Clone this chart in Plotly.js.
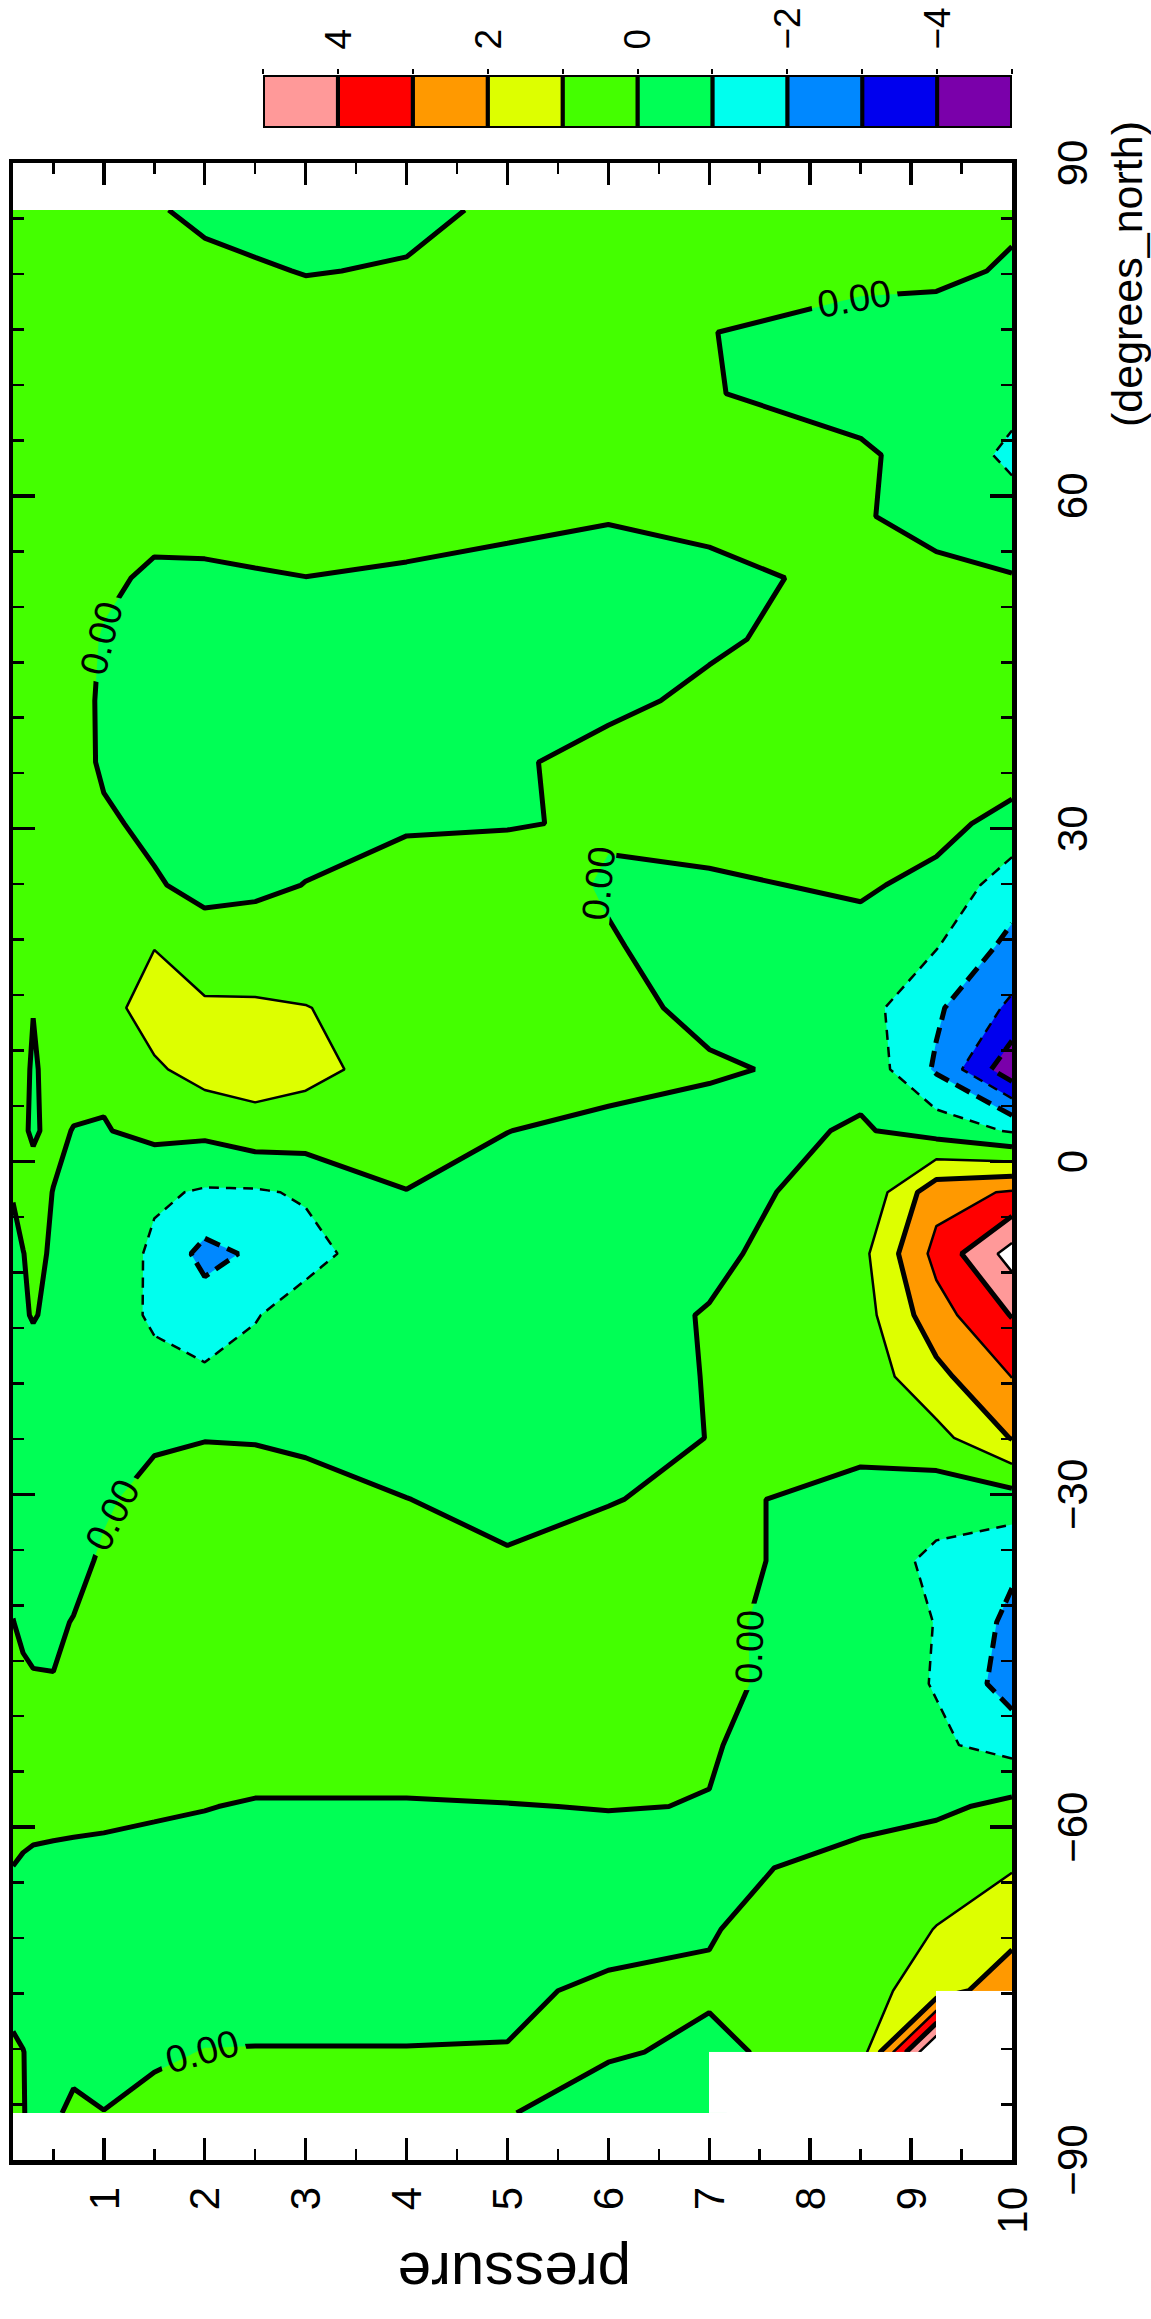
<!DOCTYPE html>
<html>
<head>
<meta charset="utf-8">
<script src="https://cdn.plot.ly/plotly-3.0.1.min.js"></script>
<style>
html,body{margin:0;padding:0;background:#fff;overflow:hidden;}
#wrap{position:relative;width:1151px;height:2319px;overflow:hidden;background:#fff;}
#chart{position:absolute;left:0;top:0;width:2319px;height:1151px;transform-origin:0 0;}
</style>
</head>
<body>
<div id="wrap"><div id="chart"></div></div>
<script>
// ---------------- data ----------------
const pressure = [0.1, 0.2, 0.3, 0.5, 0.7, 1, 1.5, 2, 2.5, 3, 4, 5, 6, 7, 8.5, 9.25, 10];
const latitude = [-85.7606, -80.2688, -74.7445, -69.2130, -63.6786, -58.1430, -52.6065, -47.0696,
  -41.5325, -35.9951, -30.4576, -24.9199, -19.3822, -13.8445, -8.3067, -2.7689,
  2.7689, 8.3067, 13.8445, 19.3822, 24.9199, 30.4576, 35.9951, 41.5325,
  47.0696, 52.6065, 58.1430, 63.6786, 69.2130, 74.7445, 80.2688, 85.7606];

// one row per latitude, values at the pressure levels above (null = missing)
const rowS01 = [0.1, 0.02, -0.1, -0.15, 0.2, 0.01, 0.2, 0.3, 0.3, 0.3, 0.3, 0.05, -0.5, -0.5, null, null, null];
const rowS02 = [0.05, 0.01, -0.1, -0.3, -0.3, -0.2, -0.1, 0.02, 0.03, 0.03, 0.03, 0.03, 0.1, -0.18, 0.5, 6.3, null];
const rowS03 = [-0.1, -0.2, -0.25, -0.3, -0.3, -0.3, -0.3, -0.27, -0.27, -0.27, -0.27, -0.15, 0.15, 0.1, 0.7, 1.4, 2.8];
const rowS04 = [-0.2, -0.3, -0.3, -0.4, -0.4, -0.4, -0.5, -0.5, -0.5, -0.5, -0.5, -0.4, -0.3, -0.05, 0.6, 1.02, 1.6];
const rowS05 = [-0.01, -0.1, -0.15, -0.2, -0.2, -0.2, -0.3, -0.4, -0.5, -0.5, -0.5, -0.5, -0.4, -0.3, 0.4, 0.7, 0.95];
const rowS06 = [0.3, 0.3, 0.25, 0.25, 0.2, 0.15, 0.1, 0.03, -0.08, -0.08, -0.08, -0.03, 0.03, -0.02, -0.4, -0.2, 0.25];
const rowS07 = [0.4, 0.4, 0.4, 0.4, 0.4, 0.4, 0.5, 0.5, 0.5, 0.5, 0.5, 0.5, 0.4, 0.05, -0.5, -0.85, -1.35];
const rowS08 = [0.3, 0.2, 0.1, 0.05, 0.1, 0.3, 0.5, 0.5, 0.5, 0.5, 0.5, 0.5, 0.5, 0.2, -0.55, -1.05, -2.47];
const rowS09 = [0.02, -0.2, -0.3, -0.2, 0.05, 0.3, 0.5, 0.5, 0.5, 0.5, 0.5, 0.5, 0.5, 0.2, -0.57, -1.02, -2.25];
const rowS10 = [-0.3, -0.4, -0.4, -0.4, -0.4, 0.2, 0.5, 0.6, 0.6, 0.5, 0.3, 0.1, 0.4, 0.3, -0.5, -1.2, -1.8];
const rowS11 = [-0.4, -0.4, -0.4, -0.4, -0.4, -0.2, 0.49, 0.6, 0.65, 0.42, 0.015, -0.3, -0.05, 0.27, -0.45, -0.6, -0.45];
const rowS12 = [-0.4, -0.4, -0.4, -0.4, -0.4, -0.4, -0.2, -0.04, -0.08, -0.2, -0.5, -0.6, -0.4, 0.02, 0.4, 0.68, 2.05];
const rowS13 = [-0.3, -0.3, -0.2, -0.3, -0.4, -0.5, -0.7, -0.85, -0.7, -0.5, -0.5, -0.5, -0.3, 0.03, 0.41, 1.72, 3.02];
const rowS14 = [-0.2, -0.05, 0.03, -0.1, -0.3, -0.5, -1.15, -1.5, -1.05, -0.6, -0.4, -0.4, -0.3, 0.05, 0.57, 2.6, 4.05];
const rowS15 = [-0.1, -0.01, 0.1, -0.05, -0.2, -0.3, -1.2, -2.3, -1.85, -1.3, -0.35, -0.3, -0.3, -0.2, 0.7, 3.3, 5.4];
const rowS16 = [0.02, 0.15, 0.15, -0.01, -0.1, -0.3, -0.85, -1.1, -1.1, -0.9, -0.02, -0.3, -0.4, -0.08, 0.1, 2.63, 3.1];
const rowN16 = [0.1, 0.05, -0.05, 0.1, -0.015, -0.05, 0.25, 0.21, 0.57, 0.53, 0.4, 0.01, -0.2, -0.4, 0.1, -0.4, -1.1];
const rowN15 = [0.2, 0.1, -0.05, 0.15, 0.17, 0.17, 0.85, 1.4, 1.5, 1.25, 0.6, 0.4, 0.3, 0.12, -0.28, -2.13, -4.7];
const rowN14 = [0.3, 0.2, 0.01, 0.3, 0.5, 0.6, 1.5, 1.12, 1.1, 1.02, 0.7, 0.6, 0.3, -0.25, -0.6, -1.85, -3.2];
const rowN13 = [0.3, 0.3, 0.25, 0.3, 0.4, 0.5, 0.97, 0.5, 0.54, 0.6, 0.6, 0.5, 0.1, -0.5, -0.4, -0.95, -2.3];
const rowN12 = [0.3, 0.3, 0.3, 0.3, 0.35, 0.3, 0.1, -0.3, -0.2, 0.02, 0.6, 0.6, -0.12, -0.15, 0.15, -0.3, -1.5];
const rowN11 = [0.4, 0.4, 0.4, 0.4, 0.3, 0.15, -0.22, -0.4, -0.4, -0.3, -0.15, -0.07, 0.12, 0.4, 0.3, 0.35, -0.4];
const rowN10 = [0.4, 0.4, 0.4, 0.4, 0.4, -0.15, -0.3, -0.5, -0.5, -0.5, -0.4, -0.2, 0.45, 0.5, 0.5, 0.4, 0.6];
const rowN09 = [0.4, 0.4, 0.4, 0.4, 0.4, -0.17, -0.4, -0.5, -0.5, -0.5, -0.5, -0.5, -0.3, 0.28, 0.5, 0.5, 0.5];
const rowN08 = [0.4, 0.4, 0.4, 0.4, 0.4, -0.08, -0.3, -0.4, -0.5, -0.4, -0.4, -0.4, -0.4, -0.2, 0.6, 0.5, 0.5];
const rowN07 = [0.4, 0.4, 0.4, 0.4, 0.4, 0.2, -0.17, -0.3, -0.1, -0.01, -0.2, -0.4, -0.5, -0.3, 0.3, 0.3, 0.05];
const rowN06 = [0.4, 0.4, 0.4, 0.4, 0.4, 0.4, 0.33, 0.67, 0.52, 0.5, 0.57, 0.31, 0.075, 0.3, 0.1, -0.4, -0.6];
const rowN05 = [0.4, 0.4, 0.4, 0.4, 0.4, 0.4, 0.5, 0.5, 0.5, 0.5, 0.5, 0.5, 0.5, 0.4, 0.15, -0.4, -1.2];
const rowN04 = [0.4, 0.4, 0.4, 0.4, 0.4, 0.4, 0.5, 0.5, 0.5, 0.5, 0.5, 0.5, 0.5, 0.05, -0.4, -0.6, -0.7];
const rowN03 = [0.4, 0.4, 0.4, 0.4, 0.4, 0.4, 0.5, 0.6, 0.6, 0.6, 0.6, 0.6, 0.5, 0.03, -0.5, -0.4, -0.4];
const rowN02 = [0.4, 0.4, 0.4, 0.4, 0.4, 0.4, 0.45, 0.47, 0.13, -0.05, 0.09, 0.4, 0.5, 0.4, 0.35, 0.2, -0.1];
const rowN01 = [0.4, 0.4, 0.4, 0.4, 0.4, 0.4, 0.16, -0.4, -0.45, -0.5, -0.3, 0.22, 0.4, 0.4, 0.3, 0.3, 0.15];

const zRows = [rowS01, rowS02, rowS03, rowS04, rowS05, rowS06, rowS07, rowS08, rowS09, rowS10,
  rowS11, rowS12, rowS13, rowS14, rowS15, rowS16, rowN16, rowN15, rowN14, rowN13, rowN12,
  rowN11, rowN10, rowN09, rowN08, rowN07, rowN06, rowN05, rowN04, rowN03, rowN02, rowN01];

// colour key (one box per unit, from -5 to 5)
const keyBase = [-5, -4, -3, -2, -1, 0, 1, 2, 3, 4];
const keyColors = ['#7a00aa', '#0000ee', '#0088ff', '#00ffee', '#00ff55', '#44ff00', '#ddff00', '#ff9900', '#ff0000', '#ff9999'];
const keyTicks = [-4, -2, 0, 2, 4];
const latTicks = [-90, -60, -30, 0, 30, 60, 90];
const presTicks = [1, 2, 3, 4, 5, 6, 7, 8, 9, 10];

// ---------------- drawing ----------------
const FONT = 'Liberation Sans, Arial, Helvetica, sans-serif';

// fill bands: below -5, ten key colours, above 5 (white)
const bandColors = [keyColors[0]].concat(keyColors, ['#ffffff']);
const nLev = bandColors.length - 1;
const fillScale = [];
bandColors.forEach((c, i) => {
  fillScale.push([Math.max(0, (i - 0.5) / nLev), c]);
  fillScale.push([Math.min(1, (i + 0.5) / nLev), c]);
});

const fillTrace = {
  type: 'contour', x: latitude, y: pressure, z: zRows, transpose: true,
  autocontour: false,
  contours: {start: -5, end: 5, size: 1, coloring: 'fill', showlines: false},
  colorscale: fillScale, showscale: false,
  line: {width: 0, smoothing: 0}, hoverinfo: 'skip'
};

function lineTrace(start, end, width, dash, labels) {
  return {
    type: 'contour', x: latitude, y: pressure, z: zRows, transpose: true,
    autocontour: false,
    contours: {start: start, end: end, size: 2, coloring: 'none', showlabels: labels,
      labelfont: {family: FONT, size: 38, color: 'black'}, labelformat: '.2f'},
    line: {color: 'black', width: width, dash: dash, smoothing: 0},
    showscale: false, hoverinfo: 'skip'
  };
}

// mask for cells touching missing values
const maskZ = [];
for (let j = 0; j < latitude.length - 1; j++) {
  const r = [];
  for (let i = 0; i < pressure.length - 1; i++) {
    const c = [zRows[j][i], zRows[j][i + 1], zRows[j + 1][i], zRows[j + 1][i + 1]];
    r.push(c.some(v => v === null) ? 1 : null);
  }
  maskZ.push(r);
}
const maskTrace = {
  type: 'heatmap', x: latitude, y: pressure, z: maskZ, transpose: true,
  colorscale: [[0, '#ffffff'], [1, '#ffffff']], showscale: false, zsmooth: false,
  hoverinfo: 'skip', xaxis: 'x3', yaxis: 'y3'
};

const keyTrace = {
  type: 'bar', x: keyBase.map(() => 0), y: keyBase.map(() => 1), base: keyBase, width: 1,
  marker: {color: keyColors, line: {color: 'black', width: 4}},
  xaxis: 'x2', yaxis: 'y2', hoverinfo: 'skip'
};

const traces = [
  fillTrace,
  lineTrace(1, 5, 2.5, 'solid', false),
  lineTrace(2, 4, 5, 'solid', false),
  lineTrace(-3, -1, 2.5, '10px,7px', false),
  lineTrace(-4, -2, 5, '16px,8px', false),
  lineTrace(0, 0, 5, 'solid', true),
  maskTrace,
  keyTrace
];

const W = 2319, H = 1151;
const ML = 159, MR = 60, MT = 13, MB = 139;
const PW = W - ML - MR, PH = H - MT - MB;

const layout = {
  width: W, height: H,
  margin: {l: ML, r: MR, t: MT, b: MB, pad: 0},
  paper_bgcolor: '#ffffff', plot_bgcolor: '#ffffff',
  showlegend: false, barmode: 'overlay',
  font: {family: FONT, color: 'black', size: 42},
  xaxis: {
    domain: [0, (2156 - ML) / PW], range: [-90, 90], tickvals: latTicks,
    ticks: 'inside', ticklen: 22, tickwidth: 3.5, tickcolor: 'black',
    minor: {dtick: 5, tick0: -90, ticks: 'inside', ticklen: 11, tickwidth: 2.5, tickcolor: 'black'},
    showline: true, linewidth: 4.5, linecolor: 'black', mirror: 'allticks',
    showgrid: false, zeroline: false, tickangle: 0, tickfont: {size: 42, family: FONT},
    anchor: 'y', layer: 'above traces', ticklabelstandoff: 20
  },
  yaxis: {
    domain: [0, 1], range: [10, 0.1], tickvals: presTicks,
    ticks: 'inside', ticklen: 22, tickwidth: 3.5, tickcolor: 'black',
    minor: {dtick: 0.5, tick0: 0, ticks: 'inside', ticklen: 11, tickwidth: 2.5, tickcolor: 'black'},
    showline: true, linewidth: 4.5, linecolor: 'black', mirror: 'allticks',
    showgrid: false, zeroline: false, tickangle: 0, tickfont: {size: 42, family: FONT},
    anchor: 'x', layer: 'above traces', ticklabelstandoff: 14
  },
  xaxis3: {overlaying: 'x', range: [-90, 90], visible: false, anchor: 'y3'},
  yaxis3: {overlaying: 'y', range: [10, 0.1], visible: false, anchor: 'x3'},
  xaxis2: {
    domain: [(2191 - ML) / PW, (2244 - ML) / PW], range: [-0.5, 0.5], anchor: 'y2',
    showticklabels: false, showgrid: false, zeroline: false, showline: false, ticks: ''
  },
  yaxis2: {
    domain: [0, (1012 - 263) / PH], range: [-5, 5], anchor: 'x2', side: 'right',
    tickvals: keyTicks, ticks: 'outside', ticklen: 5, tickwidth: 2, tickcolor: 'black',
    minor: {dtick: 1, tick0: 0, ticks: 'outside', ticklen: 5, tickwidth: 2, tickcolor: 'black'},
    showgrid: false, zeroline: false, showline: false, tickangle: 0,
    tickfont: {size: 37, family: FONT}, ticklabelstandoff: 12
  },
  annotations: [
    {text: 'pressure', xref: 'paper', yref: 'paper', x: (45 - ML) / PW, y: (1012 - 515) / PH,
     xanchor: 'center', yanchor: 'middle', textangle: -90, showarrow: false,
     font: {size: 60, family: FONT, color: 'black'}},
    {text: '(degrees_north)', xref: 'paper', yref: 'paper', x: (2045 - ML) / PW, y: (1012 - 1127) / PH,
     xanchor: 'center', yanchor: 'middle', showarrow: false,
     font: {size: 43, family: FONT, color: 'black'}}
  ]
};

Plotly.newPlot('chart', traces, layout, {staticPlot: true, displayModeBar: false}).then(function () {
  document.getElementById('chart').style.transform = 'translateY(2319px) rotate(-90deg)';
});
</script>
</body>
</html>
